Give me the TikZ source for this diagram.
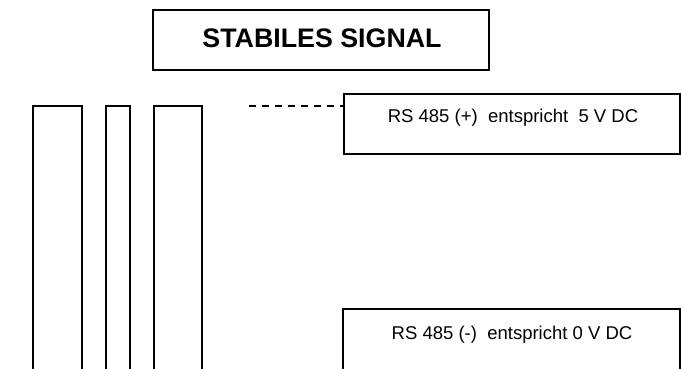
\documentclass[tikz,border=0pt]{standalone}
\usepackage{fontspec}
\setmainfont{Liberation Sans}
\begin{document}
\begin{tikzpicture}[x=1pt,y=-1pt,
  line/.style={draw=black,line width=1.1pt},
  boxnode/.style={line,rectangle,inner sep=0pt},
  smalltext/.style={font=\fontsize{18.5}{21}\selectfont,inner sep=0pt,anchor=base},
  dashline/.style={line,dash pattern=on 7pt off 6pt}]
\useasboundingbox (0,0) rectangle (681,369);
\clip (0,0) rectangle (681,369);
% title
\node[boxnode,minimum width=336pt,minimum height=60pt] (title) at (321,40) {};
\node[font=\fontsize{26.8}{30}\selectfont\bfseries,inner sep=0pt,anchor=base] (titletext) at (322,47.5) {STABILES SIGNAL};
% bars
\draw[line] (33,380) -- (33,106) -- (82,106) -- (82,380);
\draw[line] (106,380) -- (106,106) -- (130,106) -- (130,380);
\draw[line] (154,380) -- (154,106) -- (202,106) -- (202,380);
% box 1
\node[boxnode,minimum width=336pt,minimum height=60pt] (box1) at (512,124) {};
\node[smalltext] (t1) at (513,123) {RS 485 (+)\ \ entspricht\ \ 5 V DC};
\coordinate (dstart) at (249,106);
\draw[dashline] (dstart) -- (dstart -| box1.west);
% box 2
\draw[line] (343,380) -- (343,309) -- (680,309) -- (680,380);
\node[smalltext] (t2) at (512,339) {RS 485 (-)\ \ entspricht 0 V DC};
\end{tikzpicture}
\end{document}
